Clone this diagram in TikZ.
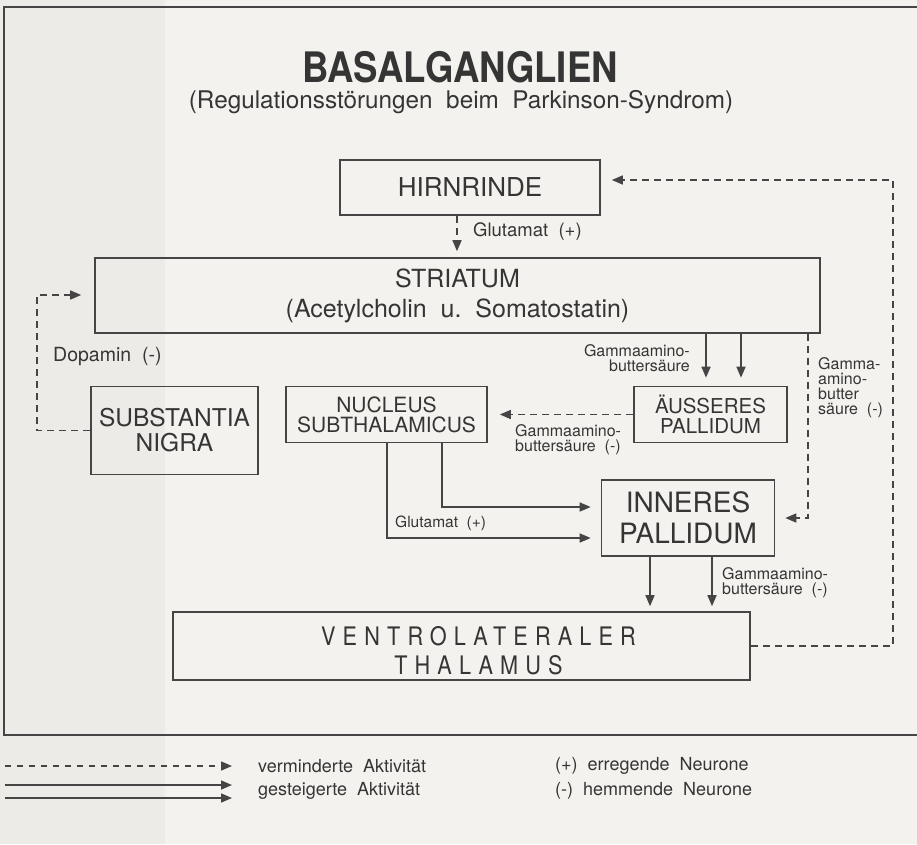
\documentclass[tikz,border=0pt]{standalone}
\usepackage{fontspec}
\setmainfont{TeX Gyre Heros}
\newfontfamily\titlefont[FakeStretch=0.87]{TeX Gyre Heros}
\newfontfamily\thalfont[FakeStretch=0.85,LetterSpace=28]{TeX Gyre Heros}
\usetikzlibrary{arrows.meta,calc}
\definecolor{linec}{HTML}{454545}
\definecolor{textc}{HTML}{353535}
\definecolor{paper}{HTML}{F3F2EE}
\definecolor{strip}{HTML}{ECEBE7}
\newcommand\fsz[2]{\fontsize{#1}{#2}\selectfont}
\tikzset{
  box/.style={draw=linec, line width=1.6pt, inner sep=0pt, align=center, text=textc},
  arr/.style={draw=linec, line width=1.5pt, -{Triangle[length=11pt,width=9pt]}},
  darr/.style={arr, dash pattern=on 7pt off 5pt},
  lbl/.style={text=textc, inner sep=0pt, font=\fsz{16}{15}},
  leg/.style={text=textc, inner sep=0pt, anchor=west, font=\fsz{18}{18}}
}
\begin{document}
\begin{tikzpicture}[x=1pt,y=-1pt]
\fill[paper] (0,0) rectangle (917,844);
\fill[strip] (0,0) rectangle (165,844);
\useasboundingbox (0,0) rectangle (917,844);
% frame
\draw[linec, line width=1.4pt] (925,7) -- (4,7) -- (4,735) -- (925,735);
% titles
\node[text=textc, font=\titlefont\bfseries\fsz{42}{42}] (title) at (460,67) {BASALGANGLIEN};
\node[text=textc, font=\fsz{24.3}{24}] (sub) at (461,102) {(Regulationsstörungen~~beim~~Parkinson-Syndrom)};
% boxes
\node[box, minimum width=260pt, minimum height=55pt, font=\fsz{26}{26}] (hirn) at (470,187.5) {HIRNRINDE};
\node[box, minimum width=725pt, minimum height=75pt, font=\fsz{25}{30}] (striatum) at (457.5,295.5) {STRIATUM\\(Acetylcholin~~u.~~Somatostatin)};
\node[box, minimum width=167pt, minimum height=88pt, font=\fsz{24.5}{25}] (subst) at (174.5,430.5) {SUBSTANTIA\\NIGRA};
\node[box, minimum width=201pt, minimum height=56pt, font=\fsz{21}{20}] (nucleus) at (386.5,414.5) {NUCLEUS\\SUBTHALAMICUS};
\node[box, minimum width=153pt, minimum height=56pt, font=\fsz{20.5}{20}] (aeuss) at (710.5,414.5) {ÄUSSERES\\PALLIDUM};
\node[box, minimum width=173pt, minimum height=76pt, font=\fsz{28}{31}] (inner) at (688,518) {INNERES\\PALLIDUM};
\node[box, minimum width=577pt, minimum height=68pt] (thal) at (461.5,646) {};
\node[text=textc, inner sep=0pt, align=center, font=\thalfont\fsz{25.5}{29}] (thaltxt) at ([xshift=17pt,yshift=-5pt]thal.center) {VENTROLATERALER\\THALAMUS};
% helper coordinates
\coordinate (r1) at (893,646);
\coordinate (r2) at (893,180);
\coordinate (gx) at (457,0);
\coordinate (d1) at (37,430.5);
\coordinate (d2) at (37,295);
\coordinate (a1) at (706,0);
\coordinate (a2) at (741,0);
\coordinate (s3) at (808,518);
\coordinate (g1) at (442,507);
\coordinate (g2) at (387,538);
\coordinate (t1) at (650,0);
\coordinate (t2) at (712,0);
% connectors
\draw[darr, shorten >=11pt] (thal.east) -- (r1) -- (r2) -- (hirn.east |- r2);
\draw[darr, shorten >=6pt] (hirn.south -| gx) -- (striatum.north -| gx);
\draw[darr, shorten >=13pt] (subst.west) -- (d1) -- (d2) -- (striatum.west |- d2);
\draw[arr, shorten >=8pt] (striatum.south -| a1) -- (aeuss.north -| a1);
\draw[arr, shorten >=8pt] (striatum.south -| a2) -- (aeuss.north -| a2);
\draw[darr, shorten >=12pt] (aeuss.west) -- (nucleus.east);
\draw[darr, shorten >=10pt] (striatum.south -| s3) -- (s3) -- (inner.east |- s3);
\draw[arr, shorten >=10pt] (nucleus.south -| g1) |- (inner.west |- g1);
\draw[arr, shorten >=10pt] (nucleus.south -| g2) |- (inner.west |- g2);
\draw[arr, shorten >=5pt] (inner.south -| t1) -- (thal.north -| t1);
\draw[arr, shorten >=5pt] (inner.south -| t2) -- (thal.north -| t2);
% labels
\node[lbl, anchor=west, font=\fsz{18.5}{18}] (lg1) at (473,232) {Glutamat~~(+)};
\node[lbl, anchor=east, align=right] (lga) at (690,358) {Gammaamino-\\buttersäure};
\node[lbl, anchor=north west, align=left] (lgb) at (515,424) {Gammaamino-\\buttersäure~~(-)};
\node[lbl, anchor=north west, align=left] (lgc) at (818,357) {Gamma-\\amino-\\butter\\säure~~(-)};
\node[lbl, anchor=west, font=\fsz{15.5}{15}] (lg2) at (395,523) {Glutamat~~(+)};
\node[lbl, anchor=north west, align=left] (lgd) at (722,567) {Gammaamino-\\buttersäure~~(-)};
\node[lbl, anchor=west, font=\fsz{19.5}{20}] (ldop) at (53,357) {Dopamin~~(-)};
% legend
\coordinate (l1s) at (5,766); \coordinate (l1e) at (232,766);
\coordinate (l2s) at (5,785); \coordinate (l2e) at (232,785);
\coordinate (l3s) at (5,798); \coordinate (l3e) at (232,798);
\draw[darr, dash pattern=on 6pt off 6pt] (l1s) -- (l1e);
\draw[arr] (l2s) -- (l2e);
\draw[arr] (l3s) -- (l3e);
\node[leg] (t1l) at (258,766) {verminderte~~Aktivität};
\node[leg] (t2l) at (258,791) {gesteigerte~~Aktivität};
\node[leg] (t3l) at (555,766) {(+)~~erregende~~Neurone};
\node[leg] (t4l) at (555,791) {(-)~~hemmende~~Neurone};
\end{tikzpicture}
\end{document}
